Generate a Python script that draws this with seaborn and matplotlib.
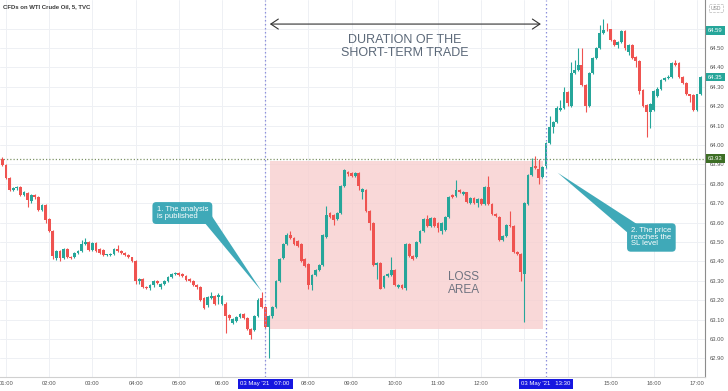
import matplotlib
matplotlib.use("Agg")
import matplotlib.pyplot as plt
import matplotlib.transforms as mtransforms
import numpy as np
import pandas as pd
import seaborn as sns

# 5-minute candles, WTI crude CFD, 03 May 2021 from 00:55
opens = [
    63.93, 63.895, 63.83, 63.77, 63.776, 63.785, 63.74, 63.75, 63.71, 63.74,
    63.73, 63.665, 63.69, 63.62, 63.555, 63.415, 63.455, 63.415, 63.465, 63.425,
    63.42, 63.445, 63.455, 63.49, 63.50, 63.46, 63.495, 63.465, 63.46, 63.435,
    63.435, 63.44, 63.465, 63.455, 63.445, 63.435, 63.42, 63.40, 63.30, 63.31,
    63.27, 63.262, 63.278, 63.30, 63.27, 63.285, 63.30, 63.32, 63.335, 63.34,
    63.335, 63.325, 63.31, 63.30, 63.28, 63.27, 63.21, 63.175, 63.21, 63.22,
    63.215, 63.18, 63.18, 63.125, 63.08, 63.095, 63.115, 63.13, 63.11, 63.05,
    63.045, 63.12, 63.21, 63.165, 63.06, 63.12, 63.165, 63.30, 63.415, 63.49,
    63.535, 63.52, 63.505, 63.49, 63.41, 63.385, 63.28, 63.33, 63.355, 63.38,
    63.525, 63.65, 63.64, 63.62, 63.65, 63.79, 63.86, 63.855, 63.84, 63.855,
    63.76, 63.77, 63.66, 63.60, 63.38, 63.39, 63.27, 63.325, 63.33, 63.355,
    63.27, 63.28, 63.265, 63.49, 63.43, 63.42, 63.50, 63.555, 63.62, 63.58,
    63.625, 63.60, 63.555, 63.56, 63.63, 63.74, 63.735, 63.77, 63.745, 63.755,
    63.70, 63.725, 63.70, 63.72, 63.695, 63.785, 63.695, 63.645, 63.63, 63.51,
    63.53, 63.585, 63.58, 63.45, 63.44, 63.335, 63.695, 63.845, 63.89, 63.875,
    63.835, 63.89, 64.01, 64.095, 64.12, 64.18, 64.19, 64.275, 64.20, 64.37,
    64.385, 64.41, 64.31, 64.20, 64.37, 64.45, 64.50, 64.575, 64.60, 64.595,
    64.54, 64.515, 64.53, 64.585, 64.48, 64.515, 64.455, 64.435, 64.285, 64.205,
    64.17, 64.18, 64.25, 64.29, 64.335, 64.345, 64.35, 64.42, 64.42, 64.35,
    64.32, 64.26, 64.255, 64.18, 64.26,
]
highs = [
    63.94, 63.90, 63.835, 63.785, 63.79, 63.79, 63.765, 63.755, 63.745, 63.745,
    63.735, 63.695, 63.695, 63.625, 63.56, 63.46, 63.46, 63.47, 63.47, 63.43,
    63.45, 63.46, 63.51, 63.52, 63.505, 63.50, 63.50, 63.47, 63.465, 63.44,
    63.445, 63.47, 63.485, 63.46, 63.45, 63.44, 63.425, 63.405, 63.315, 63.315,
    63.275, 63.285, 63.305, 63.305, 63.29, 63.305, 63.325, 63.34, 63.345, 63.345,
    63.34, 63.33, 63.315, 63.305, 63.285, 63.275, 63.215, 63.22, 63.24, 63.225,
    63.235, 63.225, 63.19, 63.13, 63.11, 63.12, 63.135, 63.135, 63.115, 63.055,
    63.125, 63.21, 63.24, 63.17, 63.125, 63.17, 63.305, 63.415, 63.495, 63.545,
    63.555, 63.525, 63.51, 63.495, 63.415, 63.39, 63.335, 63.36, 63.385, 63.54,
    63.685, 63.655, 63.645, 63.655, 63.795, 63.875, 63.865, 63.86, 63.86, 63.86,
    63.78, 63.775, 63.665, 63.605, 63.395, 63.395, 63.33, 63.34, 63.42, 63.36,
    63.285, 63.285, 63.495, 63.495, 63.435, 63.505, 63.56, 63.625, 63.64, 63.63,
    63.63, 63.605, 63.605, 63.635, 63.735, 63.745, 63.82, 63.775, 63.765, 63.76,
    63.73, 63.73, 63.725, 63.725, 63.79, 63.84, 63.70, 63.65, 63.635, 63.535,
    63.59, 63.66, 63.585, 63.455, 63.445, 63.705, 63.85, 63.935, 63.945, 63.93,
    63.89, 64.015, 64.15, 64.125, 64.20, 64.23, 64.30, 64.28, 64.43, 64.44,
    64.50, 64.50, 64.315, 64.375, 64.455, 64.505, 64.62, 64.65, 64.63, 64.60,
    64.545, 64.535, 64.59, 64.59, 64.52, 64.52, 64.46, 64.44, 64.29, 64.21,
    64.215, 64.285, 64.30, 64.34, 64.35, 64.36, 64.43, 64.44, 64.425, 64.355,
    64.325, 64.265, 64.26, 64.265, 64.355,
]
lows = [
    63.89, 63.825, 63.765, 63.765, 63.77, 63.735, 63.735, 63.68, 63.70, 63.72,
    63.66, 63.66, 63.60, 63.55, 63.41, 63.405, 63.40, 63.41, 63.415, 63.41,
    63.415, 63.44, 63.45, 63.485, 63.455, 63.455, 63.45, 63.44, 63.43, 63.43,
    63.43, 63.435, 63.45, 63.44, 63.43, 63.415, 63.395, 63.285, 63.285, 63.265,
    63.255, 63.25, 63.27, 63.285, 63.255, 63.28, 63.295, 63.315, 63.33, 63.325,
    63.32, 63.30, 63.295, 63.275, 63.26, 63.195, 63.155, 63.165, 63.205, 63.175,
    63.18, 63.175, 63.03, 63.10, 63.075, 63.09, 63.11, 63.105, 63.045, 63.00,
    63.04, 63.115, 63.16, 63.055, 62.90, 63.11, 63.16, 63.295, 63.41, 63.485,
    63.515, 63.485, 63.475, 63.395, 63.37, 63.26, 63.25, 63.325, 63.35, 63.375,
    63.52, 63.625, 63.585, 63.615, 63.645, 63.785, 63.84, 63.835, 63.835, 63.77,
    63.72, 63.655, 63.56, 63.375, 63.31, 63.255, 63.265, 63.32, 63.325, 63.275,
    63.265, 63.255, 63.25, 63.425, 63.405, 63.415, 63.495, 63.55, 63.575, 63.575,
    63.575, 63.55, 63.54, 63.555, 63.625, 63.725, 63.73, 63.75, 63.74, 63.70,
    63.695, 63.695, 63.68, 63.69, 63.69, 63.69, 63.64, 63.63, 63.505, 63.505,
    63.525, 63.575, 63.445, 63.435, 63.30, 63.09, 63.69, 63.84, 63.875, 63.80,
    63.83, 63.88, 64.005, 64.06, 64.115, 64.175, 64.185, 64.20, 64.195, 64.365,
    64.38, 64.305, 64.17, 64.195, 64.365, 64.445, 64.495, 64.57, 64.585, 64.535,
    64.51, 64.50, 64.525, 64.49, 64.465, 64.445, 64.40, 64.265, 64.195, 64.04,
    64.085, 64.175, 64.245, 64.285, 64.33, 64.34, 64.345, 64.405, 64.345, 64.315,
    64.255, 64.22, 64.175, 64.175, 64.255,
]
closes = [
    63.895, 63.83, 63.77, 63.776, 63.785, 63.74, 63.755, 63.715, 63.74, 63.73,
    63.665, 63.69, 63.615, 63.555, 63.43, 63.455, 63.415, 63.465, 63.42, 63.415,
    63.445, 63.455, 63.49, 63.50, 63.46, 63.495, 63.455, 63.445, 63.435, 63.437,
    63.44, 63.465, 63.455, 63.445, 63.435, 63.42, 63.40, 63.30, 63.31, 63.27,
    63.262, 63.28, 63.30, 63.29, 63.285, 63.30, 63.32, 63.335, 63.34, 63.33,
    63.325, 63.305, 63.30, 63.28, 63.27, 63.20, 63.16, 63.215, 63.22, 63.18,
    63.225, 63.22, 63.12, 63.11, 63.105, 63.115, 63.13, 63.11, 63.05, 63.02,
    63.12, 63.20, 63.165, 63.06, 63.12, 63.165, 63.30, 63.41, 63.49, 63.535,
    63.52, 63.49, 63.48, 63.40, 63.375, 63.28, 63.33, 63.355, 63.38, 63.535,
    63.64, 63.63, 63.615, 63.65, 63.79, 63.87, 63.85, 63.84, 63.855, 63.79,
    63.775, 63.66, 63.60, 63.38, 63.39, 63.26, 63.325, 63.335, 63.355, 63.28,
    63.28, 63.265, 63.49, 63.43, 63.41, 63.50, 63.555, 63.62, 63.58, 63.625,
    63.58, 63.57, 63.60, 63.63, 63.73, 63.73, 63.77, 63.755, 63.76, 63.705,
    63.725, 63.70, 63.72, 63.695, 63.785, 63.695, 63.645, 63.635, 63.51, 63.53,
    63.585, 63.58, 63.45, 63.44, 63.345, 63.70, 63.845, 63.885, 63.88, 63.83,
    63.885, 64.01, 64.095, 64.12, 64.19, 64.19, 64.275, 64.215, 64.37, 64.385,
    64.41, 64.31, 64.20, 64.37, 64.45, 64.50, 64.575, 64.59, 64.595, 64.54,
    64.515, 64.53, 64.585, 64.50, 64.515, 64.45, 64.435, 64.28, 64.20, 64.17,
    64.21, 64.28, 64.29, 64.335, 64.345, 64.35, 64.42, 64.41, 64.35, 64.32,
    64.26, 64.25, 64.18, 64.26, 64.35,
]

start_time = "2021-05-03 00:55"
trade_open = "07:00"
stop_hit = "13:30"
hidden_hours = ["07:00", "13:00", "14:00"]  # covered by the date badges
stop_level = 63.93
price_ticks = [62.9, 63.0, 63.1, 63.2, 63.3, 63.4, 63.5, 63.6, 63.7, 63.8,
               63.9, 64.0, 64.1, 64.2, 64.3, 64.4, 64.5, 64.6]
hidden_prices = [64.6]  # under the 64.59 badge
price_badges = [("64.59", 64.59), ("64.35", 64.35)]

UP = "#26a69a"
DOWN = "#ef5350"
CALLOUT = "#3fa9b8"

sns.set_theme(style="white")
plt.rcParams['font.family'] = ['Liberation Sans', 'DejaVu Sans']

df = pd.DataFrame({"open": opens, "high": highs, "low": lows, "close": closes})
df["time"] = pd.date_range(start_time, periods=len(df), freq="5min")
df["pos"] = np.arange(len(df))
df["up"] = df["close"] >= df["open"]
colors = np.where(df["up"], UP, DOWN)

fig = plt.figure(figsize=(7.28, 3.91), dpi=100)
ax = fig.add_axes([0, 14 / 391, 705 / 728, 377 / 391])

# candles
ax.vlines(df["pos"], df["low"], df["high"], colors=colors, lw=0.8, zorder=3)
body = (df["close"] - df["open"]).abs().clip(lower=0.004)
bottom = df[["open", "close"]].min(axis=1)
ax.bar(df["pos"], body, bottom=bottom, width=0.78, color=colors, lw=0, zorder=4)

ax.set_xlim(-0.67, 195.2)
ax.set_ylim(62.804, 64.747)

hours = df[df["time"].dt.minute == 0]
hour_labels = [h if h not in hidden_hours else "" for h in hours["time"].dt.strftime("%H:%M")]
ax.set_xticks(hours["pos"])
ax.set_xticklabels(hour_labels)
ax.yaxis.tick_right()
ax.set_yticks(price_ticks)
ax.set_yticklabels(["" if p in hidden_prices else f"{p:.2f}" for p in price_ticks])
ax.tick_params(axis="x", length=0, labelsize=4.2, labelcolor="#555555", pad=3)
ax.tick_params(axis="y", right=True, length=2.2, width=0.5, color="#8c8c8c",
               labelsize=4.2, labelcolor="#555555", pad=1.5)
ax.grid(True, color="#eef0f4", lw=0.7)
ax.set_axisbelow(True)
sns.despine(ax=ax, left=True, top=True, right=False, bottom=False)
ax.spines["right"].set_color("#8c8c8c")
ax.spines["right"].set_linewidth(0.8)
ax.spines["bottom"].set_color("#d0d0d0")
ax.spines["bottom"].set_linewidth(0.8)

i_open = df.index[df["time"].dt.strftime("%H:%M") == trade_open][0]
i_stop = df.index[df["time"].dt.strftime("%H:%M") == stop_hit][0]

# loss area and marker lines
ax.add_patch(plt.Rectangle((74.3, 63.051), 150.1 - 74.3, 63.917 - 63.051,
                           facecolor="#f8cccc", alpha=0.75, lw=0, zorder=1))
for i in (i_open, i_stop):
    ax.axvline(i, color="#8d90dc", lw=0.9, ls=(0, (1.2, 2)), zorder=5)
ax.axhline(stop_level, color="#7f9468", lw=0.9, ls=(0, (1, 1.6)), zorder=2)

ax.annotate("", xy=(74.3, 64.623), xytext=(149.6, 64.623),
            arrowprops=dict(arrowstyle="<->,head_length=0.45,head_width=0.3",
                            lw=0.8, color="#333333", shrinkA=0, shrinkB=0))
ax.text(111.8, 64.505, "DURATION OF THE\nSHORT-TERM TRADE", ha="center", va="center",
        fontsize=9, color="#5b6878", linespacing=1.12, zorder=6)
ax.text(123.8, 63.286, "LOSS\nAREA", ha="left", va="center", fontsize=8.5,
        color="#6f7380", linespacing=1.1, zorder=6)

# callouts
ax.fill([56.0, 58.2, 72.1], [63.603, 63.633, 63.244], color=CALLOUT, lw=0, zorder=7)
ax.text(50.0, 63.649, "1. The analysis\nis published", ha="center", va="center",
        multialignment="left", fontsize=5.5, color="white", linespacing=0.9, zorder=8,
        bbox=dict(boxstyle="round,pad=0.55,rounding_size=0.5", fc=CALLOUT, ec="none"))
ax.fill([173.8, 176.3, 154.25], [63.546, 63.592, 63.857], color=CALLOUT, lw=0, zorder=7)
ax.text(180.3, 63.523, "2. The price\nreaches the\nSL level", ha="center", va="center",
        multialignment="left", fontsize=5.5, color="white", linespacing=0.9, zorder=8,
        bbox=dict(boxstyle="round,pad=0.55,rounding_size=0.5", fc=CALLOUT, ec="none"))

ax.text(3 / 705, 1 - 7 / 377, "CFDs on WTI Crude Oil, 5, TVC", transform=ax.transAxes,
        ha="left", va="center", fontsize=4.3, fontweight="bold", color="#3a3a3a", zorder=9)

# price badges on the right axis
ytrans = mtransforms.blended_transform_factory(ax.transAxes, ax.transData)
for label, price in price_badges:
    ax.text(1.0045, price, label, transform=ytrans, ha="left", va="center", fontsize=4.2,
            color="white", clip_on=False, zorder=10,
            bbox=dict(boxstyle="square,pad=0.3", fc=UP, ec="none"))
ax.text(1.0045, stop_level, f"{stop_level:.2f}", transform=ytrans, ha="left", va="center",
        fontsize=4.2, color="white", clip_on=False, zorder=10,
        bbox=dict(boxstyle="square,pad=0.3", fc="#3d6e25", ec="none"))
ax.text(1.0156, 1 - 8 / 377, "USD", transform=ax.transAxes, ha="center", va="center",
        fontsize=3.6, color="#888888", clip_on=False, zorder=10,
        bbox=dict(boxstyle="square,pad=0.3", fc="white", ec="#bbbbbb", lw=0.5, ls="--"))

# highlighted dates on the time axis
xtrans = mtransforms.blended_transform_factory(ax.transData, ax.transAxes)
for i in (i_open, i_stop):
    t = df.loc[i, "time"]
    ax.text(i, -7 / 377, t.strftime("%d %b '%y") + "   " + t.strftime("%H:%M"),
            transform=xtrans, ha="center", va="center", fontsize=4.3, color="white",
            clip_on=False, zorder=10,
            bbox=dict(boxstyle="square,pad=0.45", fc="#1616e0", ec="none"))

fig.savefig("out.png", dpi=100)
